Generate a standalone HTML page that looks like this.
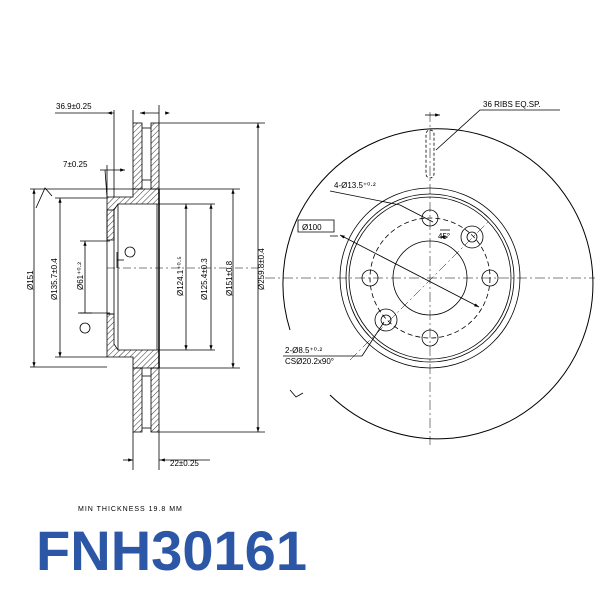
<!DOCTYPE html>
<html><head><style>body{margin:0;background:#fff}svg{display:block}</style></head><body>
<svg width="600" height="600" viewBox="0 0 600 600" xmlns="http://www.w3.org/2000/svg" font-family="Liberation Sans, sans-serif">
<defs>
<pattern id="h" width="4" height="4" patternUnits="userSpaceOnUse" patternTransform="rotate(45)"><line x1="0" y1="0" x2="0" y2="4" stroke="#000" stroke-width="0.8"/></pattern>
<marker id="a" markerWidth="6" markerHeight="6" refX="6" refY="3" orient="auto-start-reverse"><path d="M0,1 L6,3 L0,5z" fill="#000"/></marker>
</defs>
<g stroke="#000" stroke-width="0.8" fill="none">
<!-- left section -->
<rect x="133" y="123" width="9" height="66" fill="url(#h)"/>
<rect x="151" y="123" width="8" height="66" fill="url(#h)"/>
<rect x="133" y="368" width="9" height="64" fill="url(#h)"/>
<rect x="151" y="368" width="8" height="64" fill="url(#h)"/>
<line x1="142" y1="128" x2="151" y2="128"/><line x1="142" y1="180" x2="151" y2="180"/>
<line x1="142" y1="376" x2="151" y2="376"/><line x1="142" y1="428" x2="151" y2="428"/>
<path d="M107,197 L133,197 L133,189 L159,189 L159,204 L118,204 L114,210 L114,240 L107,240Z" fill="url(#h)"/>
<path d="M107,357 L133,357 L133,368 L159,368 L159,350 L118,350 L114,344 L114,314 L107,314Z" fill="url(#h)"/>
<rect x="107" y="210" width="7" height="104"/>
<line x1="118" y1="204" x2="118" y2="350"/>
<line x1="157" y1="204" x2="157" y2="350"/>
<line x1="159" y1="189" x2="159" y2="368" stroke-width="1.5"/>
<!-- extension lines -->
<line x1="159" y1="123" x2="265" y2="123"/><line x1="159" y1="432" x2="265" y2="432"/>
<line x1="159" y1="189" x2="240" y2="189"/><line x1="159" y1="368" x2="240" y2="368"/>
<line x1="159" y1="204" x2="215" y2="204"/><line x1="159" y1="350" x2="215" y2="350"/>
<line x1="30" y1="189" x2="133" y2="189"/><line x1="30" y1="367" x2="107" y2="367"/>
<line x1="55" y1="198" x2="107" y2="198"/><line x1="55" y1="357" x2="107" y2="357"/>
<line x1="80" y1="241" x2="110" y2="241"/><line x1="80" y1="313" x2="110" y2="313"/>
<line x1="114" y1="110" x2="114" y2="197"/><line x1="133" y1="110" x2="133" y2="123"/>
<line x1="159" y1="105" x2="159" y2="123"/>
<line x1="105" y1="170" x2="107" y2="197"/><line x1="107" y1="165" x2="107" y2="197"/>
<line x1="133" y1="432" x2="133" y2="470"/><line x1="159" y1="432" x2="159" y2="470"/>
<!-- dims -->
<line x1="258" y1="123" x2="258" y2="432" marker-start="url(#a)" marker-end="url(#a)"/>
<line x1="233" y1="189" x2="233" y2="368" marker-start="url(#a)" marker-end="url(#a)"/>
<line x1="211" y1="204" x2="211" y2="350" marker-start="url(#a)" marker-end="url(#a)"/>
<line x1="186" y1="204" x2="186" y2="350" marker-start="url(#a)" marker-end="url(#a)"/>
<line x1="34" y1="189" x2="34" y2="367" marker-start="url(#a)" marker-end="url(#a)"/>
<line x1="60" y1="198" x2="60" y2="357" marker-start="url(#a)" marker-end="url(#a)"/>
<line x1="85" y1="241" x2="85" y2="313" marker-start="url(#a)"/>
<line x1="55" y1="113" x2="114" y2="113"/><line x1="107" y1="113" x2="170" y2="113" marker-start="url(#a)" marker-end="url(#a)" stroke="none"/>
<line x1="140" y1="113" x2="159" y2="113" marker-start="url(#a)"/>
<line x1="100" y1="170" x2="125" y2="170" marker-end="url(#a)"/>
<line x1="123" y1="460" x2="133" y2="460" marker-end="url(#a)"/><line x1="159" y1="460" x2="210" y2="460"/>
<line x1="160" y1="460" x2="170" y2="460" marker-start="url(#a)" stroke="none"/>
<path d="M36,208 L45,188 L52,196" />
<line x1="78" y1="313" x2="92" y2="313"/><circle cx="85" cy="328" r="5"/>
<line x1="117" y1="252" x2="117" y2="268"/><line x1="117" y1="260" x2="124" y2="260"/><circle cx="130" cy="252" r="5"/>
<line x1="107" y1="268" x2="260" y2="268" stroke-dasharray="8 3 2 3" stroke-width="0.5"/>
<!-- right view -->
<path d="M330,395 A155,155 0 1 0 290,330" stroke-width="1"/>
<path d="M290,390 L296,397 L303,393"/>
<circle cx="430" cy="278" r="90"/><circle cx="430" cy="278" r="84"/><circle cx="430" cy="278" r="81"/>
<circle cx="430" cy="278" r="60" stroke-dasharray="5 3"/>
<circle cx="430" cy="278" r="37"/>
<circle cx="430" cy="218" r="8"/><circle cx="430" cy="338" r="8"/><circle cx="370" cy="278" r="8"/><circle cx="490" cy="278" r="8"/>
<circle cx="472" cy="237" r="11"/><circle cx="472" cy="237" r="5"/>
<circle cx="386" cy="320" r="11"/><circle cx="386" cy="320" r="5"/>
<line x1="430" y1="112" x2="430" y2="445" stroke-dasharray="10 3 2 3" stroke-width="0.5"/>
<line x1="265" y1="278" x2="595" y2="278" stroke-dasharray="10 3 2 3" stroke-width="0.5"/>
<line x1="350" y1="360" x2="490" y2="220" stroke-dasharray="10 3 2 3" stroke-width="0.5"/>
<rect x="426" y="130" width="8" height="48" rx="4" stroke-dasharray="3 2"/>
<line x1="425" y1="115" x2="440" y2="115" marker-end="url(#a)"/>
<path d="M560,110 L480,110 L436,150"/>
<path d="M338,236 L330,236 M440,230 L450,230" />
<line x1="400" y1="205" x2="433" y2="222"/><line x1="330" y1="191" x2="400" y2="205"/>
<line x1="340" y1="235" x2="479" y2="307" marker-start="url(#a)" marker-end="url(#a)"/>
<path d="M298,232 L334,232 L334,220 L298,220Z"/>
<line x1="283" y1="356" x2="362" y2="356"/><line x1="362" y1="356" x2="384" y2="322"/>
<line x1="440" y1="237" x2="448" y2="237" marker-start="url(#a)"/>
</g>
<g font-size="8" fill="#000" font-family="Liberation Sans Narrow, Liberation Sans, sans-serif">
<text x="56" y="109">36.9±0.25</text>
<text x="63" y="167">7±0.25</text>
<text x="170" y="466">22±0.25</text>
<text transform="translate(264,290) rotate(-90)">Ø259.8±0.4</text>
<text transform="translate(232,296) rotate(-90)">Ø151±0.8</text>
<text transform="translate(207,300) rotate(-90)">Ø125.4±0.3</text>
<text transform="translate(183,296) rotate(-90)">Ø124.1⁺⁰·⁵</text>
<text transform="translate(33,290) rotate(-90)">Ø151</text>
<text transform="translate(57,300) rotate(-90)">Ø135.7±0.4</text>
<text transform="translate(83,290) rotate(-90)">Ø61⁺⁰·²</text>
<text x="483" y="107">36 RIBS EQ.SP.</text>
<text x="334" y="188">4-Ø13.5⁺⁰·²</text>
<text x="302" y="230">Ø100</text>
<text x="438" y="239">45°</text>
<text x="285" y="353">2-Ø8.5⁺⁰·²</text>
<text x="285" y="364">CSØ20.2x90°</text>
<text x="78" y="511" font-size="7" letter-spacing="1">MIN THICKNESS 19.8 MM</text>
</g>
<text x="36" y="570" font-size="56" font-weight="bold" fill="#2c56a6" textLength="271" lengthAdjust="spacingAndGlyphs">FNH30161</text>
</svg>
</body></html>
